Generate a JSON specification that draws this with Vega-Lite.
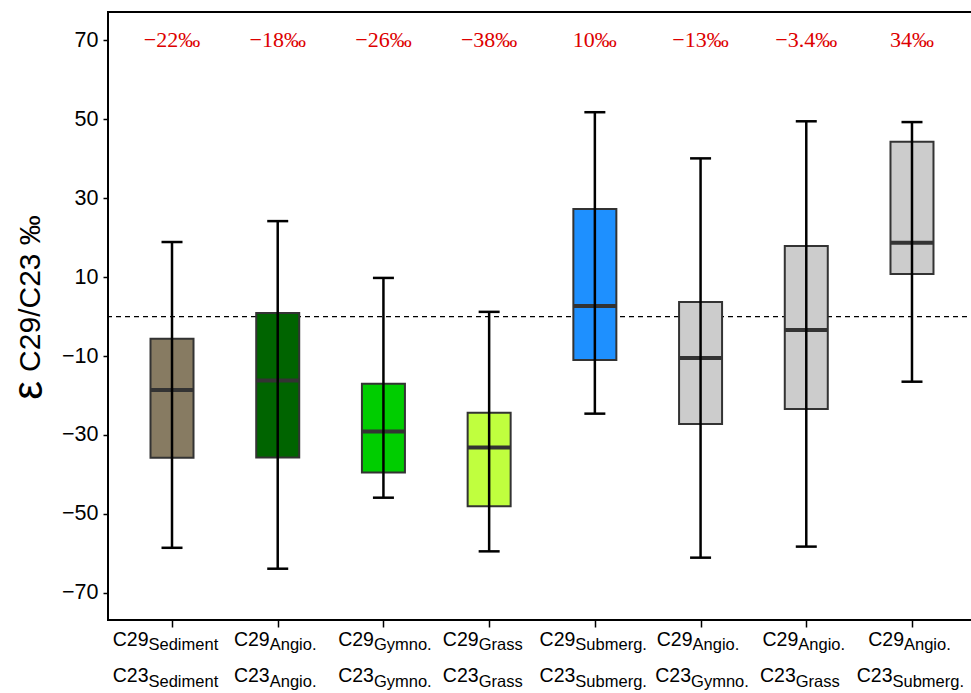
{
  "$schema": "https://vega.github.io/schema/vega-lite/v6.json",
  "autosize": {"type": "none"},
  "padding": {"left": 108, "top": 12, "right": 0, "bottom": 73},
  "width": 868,
  "height": 608,
  "background": "white",
  "config": {
    "view": {"stroke": "black", "strokeWidth": 2},
    "axis": {"grid": false},
    "text": {"baseline": "alphabetic", "color": "black"}
  },
  "datasets": {
    "boxes": [
      {"cat": "Sediment/Sediment", "low": -58.6, "q1": -35.8, "median": -18.6, "q3": -5.6, "high": 18.9, "pct": "−22‰"},
      {"cat": "Angio./Angio.", "low": -63.9, "q1": -35.7, "median": -16.2, "q3": 0.9, "high": 24.2, "pct": "−18‰"},
      {"cat": "Gymno./Gymno.", "low": -45.9, "q1": -39.5, "median": -29.1, "q3": -17.0, "high": 9.8, "pct": "−26‰"},
      {"cat": "Grass/Grass", "low": -59.5, "q1": -48.1, "median": -33.2, "q3": -24.4, "high": 1.2, "pct": "−38‰"},
      {"cat": "Submerg./Submerg.", "low": -24.6, "q1": -11.0, "median": 2.7, "q3": 27.3, "high": 51.8, "pct": "10‰"},
      {"cat": "Angio./Gymno.", "low": -61.1, "q1": -27.2, "median": -10.5, "q3": 3.7, "high": 40.1, "pct": "−13‰"},
      {"cat": "Angio./Grass", "low": -58.3, "q1": -23.4, "median": -3.4, "q3": 17.9, "high": 49.5, "pct": "−3.4‰"},
      {"cat": "Angio./Submerg.", "low": -16.5, "q1": 10.8, "median": 18.7, "q3": 44.3, "high": 49.3, "pct": "34‰"}
    ],
    "labels": [
      {"cat": "Sediment/Sediment", "row": "top", "main": "C29", "sub": "Sediment"},
      {"cat": "Sediment/Sediment", "row": "bottom", "main": "C23", "sub": "Sediment"},
      {"cat": "Angio./Angio.", "row": "top", "main": "C29", "sub": "Angio."},
      {"cat": "Angio./Angio.", "row": "bottom", "main": "C23", "sub": "Angio."},
      {"cat": "Gymno./Gymno.", "row": "top", "main": "C29", "sub": "Gymno."},
      {"cat": "Gymno./Gymno.", "row": "bottom", "main": "C23", "sub": "Gymno."},
      {"cat": "Grass/Grass", "row": "top", "main": "C29", "sub": "Grass"},
      {"cat": "Grass/Grass", "row": "bottom", "main": "C23", "sub": "Grass"},
      {"cat": "Submerg./Submerg.", "row": "top", "main": "C29", "sub": "Submerg."},
      {"cat": "Submerg./Submerg.", "row": "bottom", "main": "C23", "sub": "Submerg."},
      {"cat": "Angio./Gymno.", "row": "top", "main": "C29", "sub": "Angio."},
      {"cat": "Angio./Gymno.", "row": "bottom", "main": "C23", "sub": "Gymno."},
      {"cat": "Angio./Grass", "row": "top", "main": "C29", "sub": "Angio."},
      {"cat": "Angio./Grass", "row": "bottom", "main": "C23", "sub": "Grass"},
      {"cat": "Angio./Submerg.", "row": "top", "main": "C29", "sub": "Angio."},
      {"cat": "Angio./Submerg.", "row": "bottom", "main": "C23", "sub": "Submerg."}
    ]
  },
  "layer": [
    {
      "data": {"values": [{}]},
      "mark": {"type": "rule", "strokeDash": [5, 4], "color": "black", "strokeWidth": 1.2},
      "encoding": {"y": {"datum": 0, "type": "quantitative"}}
    },
    {
      "data": {"name": "boxes"},
      "mark": {"type": "bar", "size": 43, "stroke": "#333333", "strokeWidth": 2},
      "encoding": {
        "x": {
          "field": "cat", "type": "nominal", "sort": null,
          "scale": {"type": "point", "padding": 0.6055, "domain": ["Sediment/Sediment", "Angio./Angio.", "Gymno./Gymno.", "Grass/Grass", "Submerg./Submerg.", "Angio./Gymno.", "Angio./Grass", "Angio./Submerg."]},
          "axis": {"labels": false, "ticks": true, "tickSize": 7, "tickColor": "black", "tickWidth": 1.5, "domain": false, "title": "ε", "titleFont": "Liberation Sans", "titleFontSize": 42, "titleFontWeight": "normal", "titleColor": "black", "titleAngle": 270, "titleX": -80, "titleY": -230, "titleAlign": "center", "titleBaseline": "middle"}
        },
        "y": {
          "field": "q1", "type": "quantitative",
          "scale": {"domain": [-76.9, 77.2], "nice": false, "zero": false},
          "axis": {"values": [-70, -50, -30, -10, 10, 30, 50, 70], "labelFont": "Liberation Sans", "labelFontSize": 21.5, "labelColor": "black", "tickColor": "black", "tickSize": 5, "tickWidth": 1.5, "labelPadding": 5, "domain": false, "title": "C29/C23 ‰", "titleFont": "Liberation Sans", "titleFontSize": 30, "titleFontWeight": "normal", "titleColor": "black", "titleAngle": 270, "titleX": -78, "titleY": 281, "titleAlign": "center", "titleBaseline": "middle"}
        },
        "y2": {"field": "q3"},
        "color": {
          "field": "cat", "type": "nominal", "legend": null,
          "scale": {"domain": ["Sediment/Sediment", "Angio./Angio.", "Gymno./Gymno.", "Grass/Grass", "Submerg./Submerg.", "Angio./Gymno.", "Angio./Grass", "Angio./Submerg."], "range": ["#877b62", "#006400", "#00cd00", "#c0ff3e", "#1e90ff", "#cccccc", "#cccccc", "#cccccc"]}
        }
      }
    },
    {
      "data": {"name": "boxes"},
      "mark": {"type": "tick", "orient": "horizontal", "size": 43, "thickness": 4, "color": "#333333", "opacity": 1},
      "encoding": {"x": {"field": "cat", "type": "nominal"}, "y": {"field": "median", "type": "quantitative"}}
    },
    {
      "data": {"name": "boxes"},
      "mark": {"type": "rule", "color": "black", "strokeWidth": 2.5},
      "encoding": {"x": {"field": "cat", "type": "nominal"}, "y": {"field": "low", "type": "quantitative"}, "y2": {"field": "high"}}
    },
    {
      "data": {"name": "boxes"},
      "mark": {"type": "tick", "orient": "horizontal", "size": 21, "thickness": 2.5, "color": "black", "opacity": 1},
      "encoding": {"x": {"field": "cat", "type": "nominal"}, "y": {"field": "high", "type": "quantitative"}}
    },
    {
      "data": {"name": "boxes"},
      "mark": {"type": "tick", "orient": "horizontal", "size": 21, "thickness": 2.5, "color": "black", "opacity": 1},
      "encoding": {"x": {"field": "cat", "type": "nominal"}, "y": {"field": "low", "type": "quantitative"}}
    },
    {
      "data": {"name": "boxes"},
      "mark": {"type": "text", "font": "Liberation Serif", "fontSize": 22, "color": "#dd0000", "align": "center", "baseline": "alphabetic"},
      "encoding": {"x": {"field": "cat", "type": "nominal"}, "y": {"datum": 68.3}, "text": {"field": "pct"}}
    },
    {"data": {"name": "labels"}, "transform": [{"filter": "datum.row==='top' && datum.sub==='Sediment'"}], "mark": {"type": "text", "align": "right", "dx": -23.5, "font": "Liberation Sans", "fontSize": 19.5}, "encoding": {"x": {"field": "cat", "type": "nominal"}, "y": {"datum": -83.4}, "text": {"field": "main"}}},
    {"data": {"name": "labels"}, "transform": [{"filter": "datum.row==='top' && datum.sub==='Sediment'"}], "mark": {"type": "text", "align": "left", "dx": -23.5, "font": "Liberation Sans", "fontSize": 16.5}, "encoding": {"x": {"field": "cat", "type": "nominal"}, "y": {"datum": -84.6}, "text": {"field": "sub"}}},
    {"data": {"name": "labels"}, "transform": [{"filter": "datum.row==='bottom' && datum.sub==='Sediment'"}], "mark": {"type": "text", "align": "right", "dx": -23.5, "font": "Liberation Sans", "fontSize": 19.5}, "encoding": {"x": {"field": "cat", "type": "nominal"}, "y": {"datum": -92.7}, "text": {"field": "main"}}},
    {"data": {"name": "labels"}, "transform": [{"filter": "datum.row==='bottom' && datum.sub==='Sediment'"}], "mark": {"type": "text", "align": "left", "dx": -23.5, "font": "Liberation Sans", "fontSize": 16.5}, "encoding": {"x": {"field": "cat", "type": "nominal"}, "y": {"datum": -94.0}, "text": {"field": "sub"}}},
    {"data": {"name": "labels"}, "transform": [{"filter": "datum.row==='top' && datum.sub==='Angio.'"}], "mark": {"type": "text", "align": "right", "dx": -8, "font": "Liberation Sans", "fontSize": 19.5}, "encoding": {"x": {"field": "cat", "type": "nominal"}, "y": {"datum": -83.4}, "text": {"field": "main"}}},
    {"data": {"name": "labels"}, "transform": [{"filter": "datum.row==='top' && datum.sub==='Angio.'"}], "mark": {"type": "text", "align": "left", "dx": -8, "font": "Liberation Sans", "fontSize": 16.5}, "encoding": {"x": {"field": "cat", "type": "nominal"}, "y": {"datum": -84.6}, "text": {"field": "sub"}}},
    {"data": {"name": "labels"}, "transform": [{"filter": "datum.row==='bottom' && datum.sub==='Angio.'"}], "mark": {"type": "text", "align": "right", "dx": -8, "font": "Liberation Sans", "fontSize": 19.5}, "encoding": {"x": {"field": "cat", "type": "nominal"}, "y": {"datum": -92.7}, "text": {"field": "main"}}},
    {"data": {"name": "labels"}, "transform": [{"filter": "datum.row==='bottom' && datum.sub==='Angio.'"}], "mark": {"type": "text", "align": "left", "dx": -8, "font": "Liberation Sans", "fontSize": 16.5}, "encoding": {"x": {"field": "cat", "type": "nominal"}, "y": {"datum": -94.0}, "text": {"field": "sub"}}},
    {"data": {"name": "labels"}, "transform": [{"filter": "datum.row==='top' && datum.sub==='Gymno.'"}], "mark": {"type": "text", "align": "right", "dx": -9.5, "font": "Liberation Sans", "fontSize": 19.5}, "encoding": {"x": {"field": "cat", "type": "nominal"}, "y": {"datum": -83.4}, "text": {"field": "main"}}},
    {"data": {"name": "labels"}, "transform": [{"filter": "datum.row==='top' && datum.sub==='Gymno.'"}], "mark": {"type": "text", "align": "left", "dx": -9.5, "font": "Liberation Sans", "fontSize": 16.5}, "encoding": {"x": {"field": "cat", "type": "nominal"}, "y": {"datum": -84.6}, "text": {"field": "sub"}}},
    {"data": {"name": "labels"}, "transform": [{"filter": "datum.row==='bottom' && datum.sub==='Gymno.'"}], "mark": {"type": "text", "align": "right", "dx": -9.5, "font": "Liberation Sans", "fontSize": 19.5}, "encoding": {"x": {"field": "cat", "type": "nominal"}, "y": {"datum": -92.7}, "text": {"field": "main"}}},
    {"data": {"name": "labels"}, "transform": [{"filter": "datum.row==='bottom' && datum.sub==='Gymno.'"}], "mark": {"type": "text", "align": "left", "dx": -9.5, "font": "Liberation Sans", "fontSize": 16.5}, "encoding": {"x": {"field": "cat", "type": "nominal"}, "y": {"datum": -94.0}, "text": {"field": "sub"}}},
    {"data": {"name": "labels"}, "transform": [{"filter": "datum.row==='top' && datum.sub==='Grass'"}], "mark": {"type": "text", "align": "right", "dx": -10.5, "font": "Liberation Sans", "fontSize": 19.5}, "encoding": {"x": {"field": "cat", "type": "nominal"}, "y": {"datum": -83.4}, "text": {"field": "main"}}},
    {"data": {"name": "labels"}, "transform": [{"filter": "datum.row==='top' && datum.sub==='Grass'"}], "mark": {"type": "text", "align": "left", "dx": -10.5, "font": "Liberation Sans", "fontSize": 16.5}, "encoding": {"x": {"field": "cat", "type": "nominal"}, "y": {"datum": -84.6}, "text": {"field": "sub"}}},
    {"data": {"name": "labels"}, "transform": [{"filter": "datum.row==='bottom' && datum.sub==='Grass'"}], "mark": {"type": "text", "align": "right", "dx": -10.5, "font": "Liberation Sans", "fontSize": 19.5}, "encoding": {"x": {"field": "cat", "type": "nominal"}, "y": {"datum": -92.7}, "text": {"field": "main"}}},
    {"data": {"name": "labels"}, "transform": [{"filter": "datum.row==='bottom' && datum.sub==='Grass'"}], "mark": {"type": "text", "align": "left", "dx": -10.5, "font": "Liberation Sans", "fontSize": 16.5}, "encoding": {"x": {"field": "cat", "type": "nominal"}, "y": {"datum": -94.0}, "text": {"field": "sub"}}},
    {"data": {"name": "labels"}, "transform": [{"filter": "datum.row==='top' && datum.sub==='Submerg.'"}], "mark": {"type": "text", "align": "right", "dx": -19.5, "font": "Liberation Sans", "fontSize": 19.5}, "encoding": {"x": {"field": "cat", "type": "nominal"}, "y": {"datum": -83.4}, "text": {"field": "main"}}},
    {"data": {"name": "labels"}, "transform": [{"filter": "datum.row==='top' && datum.sub==='Submerg.'"}], "mark": {"type": "text", "align": "left", "dx": -19.5, "font": "Liberation Sans", "fontSize": 16.5}, "encoding": {"x": {"field": "cat", "type": "nominal"}, "y": {"datum": -84.6}, "text": {"field": "sub"}}},
    {"data": {"name": "labels"}, "transform": [{"filter": "datum.row==='bottom' && datum.sub==='Submerg.'"}], "mark": {"type": "text", "align": "right", "dx": -19.5, "font": "Liberation Sans", "fontSize": 19.5}, "encoding": {"x": {"field": "cat", "type": "nominal"}, "y": {"datum": -92.7}, "text": {"field": "main"}}},
    {"data": {"name": "labels"}, "transform": [{"filter": "datum.row==='bottom' && datum.sub==='Submerg.'"}], "mark": {"type": "text", "align": "left", "dx": -19.5, "font": "Liberation Sans", "fontSize": 16.5}, "encoding": {"x": {"field": "cat", "type": "nominal"}, "y": {"datum": -94.0}, "text": {"field": "sub"}}}
  ]
}
